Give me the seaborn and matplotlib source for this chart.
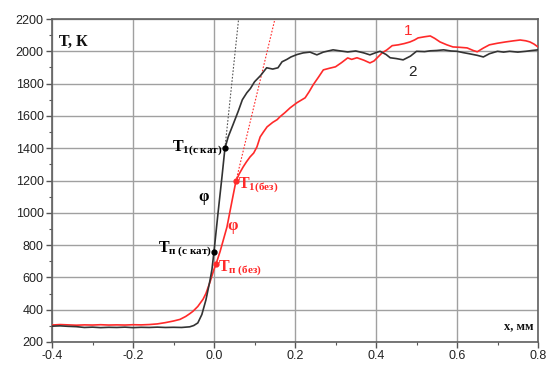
import numpy as np
import pandas as pd
import matplotlib
matplotlib.use("Agg")
import matplotlib.pyplot as plt
from matplotlib.ticker import MultipleLocator
import seaborn as sns

# Curve 2 (with catalyst), black
x2 = [-0.40, -0.38, -0.36, -0.34, -0.32, -0.30, -0.28, -0.26, -0.24, -0.22, -0.20, -0.18,
      -0.16, -0.14, -0.12, -0.10, -0.08, -0.06, -0.05, -0.04, -0.03, -0.02, -0.01, -0.005,
      0.0, 0.01, 0.02, 0.027, 0.035, 0.047, 0.06, 0.07, 0.081, 0.09, 0.10, 0.115, 0.13,
      0.145, 0.158, 0.168, 0.18, 0.19, 0.205, 0.22, 0.237, 0.254, 0.27, 0.294, 0.31, 0.33,
      0.35, 0.37, 0.385, 0.40, 0.41, 0.425, 0.435, 0.45, 0.467, 0.485, 0.50, 0.52, 0.534,
      0.55, 0.567, 0.585, 0.60, 0.615, 0.63, 0.65, 0.665, 0.68, 0.70, 0.715, 0.73, 0.75,
      0.77, 0.785, 0.80]
y2 = [298, 300, 297, 295, 290, 292, 289, 291, 290, 292, 289, 291,
      290, 292, 290, 291, 290, 294, 302, 318, 370, 460, 580, 650,
      760, 1000, 1230, 1400, 1470, 1546, 1630, 1700, 1743, 1770, 1811, 1850, 1898,
      1890, 1898, 1935, 1950, 1965, 1980, 1990, 1995, 1978, 1995, 2009, 2003, 1996,
      2002, 1990, 1978, 1992, 2000, 1980, 1960, 1955, 1947, 1970, 2000, 1998, 2003,
      2005, 2009, 2002, 2000, 1992, 1985, 1975, 1965, 1985, 2000, 1995, 2000, 1995,
      2000, 2005, 2009]

# Curve 1 (without catalyst), red
x1 = [-0.40, -0.38, -0.36, -0.34, -0.32, -0.30, -0.28, -0.26, -0.24, -0.22, -0.20, -0.18,
      -0.16, -0.14, -0.12, -0.10, -0.084, -0.07, -0.06, -0.052, -0.04, -0.027, -0.02, -0.01,
      0.0, 0.005, 0.015, 0.032, 0.045, 0.054, 0.062, 0.072, 0.08, 0.089, 0.098, 0.106,
      0.114, 0.122, 0.131, 0.145, 0.156, 0.163, 0.175, 0.188, 0.205, 0.225, 0.235, 0.245,
      0.258, 0.27, 0.285, 0.30, 0.315, 0.33, 0.34, 0.353, 0.37, 0.385, 0.395, 0.405, 0.415,
      0.427, 0.44, 0.455, 0.47, 0.484, 0.495, 0.504, 0.52, 0.534, 0.545, 0.558, 0.575,
      0.59, 0.605, 0.625, 0.64, 0.65, 0.665, 0.68, 0.70, 0.72, 0.74, 0.756, 0.77, 0.78,
      0.79, 0.80]
y1 = [305, 308, 306, 304, 306, 305, 307, 305, 306, 305, 307, 306,
      308, 312, 320, 330, 340, 358, 375, 390, 420, 465, 500, 570,
      650, 683, 760, 912, 1080, 1194, 1240, 1284, 1315, 1346, 1370, 1408,
      1470, 1500, 1532, 1560, 1577, 1595, 1620, 1650, 1682, 1712, 1750, 1793,
      1840, 1885, 1895, 1904, 1930, 1959, 1950, 1960, 1945, 1928, 1940, 1965, 1990,
      2009, 2035, 2040, 2048, 2058, 2070, 2083, 2090, 2095, 2080, 2058, 2040,
      2027, 2025, 2021, 2005, 1997, 2020, 2040, 2050, 2058, 2065, 2070, 2065, 2058,
      2045, 2027]

# Characteristic points (x, T)
t1_cat = (0.027, 1400)
tn_cat = (0.0, 760)
t1_bez = (0.054, 1194)
tn_bez = (0.005, 683)

x_ticks = [-0.4, -0.2, 0.0, 0.2, 0.4, 0.6, 0.8]
y_ticks = [200, 400, 600, 800, 1000, 1200, 1400, 1600, 1800, 2000, 2200]

RED = "#ff2a2a"
BLACK = "#333333"

sns.set_style("white")
plt.rcParams["font.family"] = ["Liberation Sans", "DejaVu Sans"]
plt.rcParams["mathtext.fontset"] = "custom"
plt.rcParams["mathtext.rm"] = "Liberation Serif"
plt.rcParams["mathtext.bf"] = "Liberation Serif:bold"
plt.rcParams["mathtext.it"] = "Liberation Serif:italic"

fig = plt.figure(figsize=(5.49, 3.66), dpi=100)
ax = fig.add_axes([52 / 549, 24 / 366, (538 - 52) / 549, (342 - 19) / 366])

df1 = pd.DataFrame({"x": x1, "T": y1})
df2 = pd.DataFrame({"x": x2, "T": y2})

ax.grid(True, color="#a0a0a0", linewidth=1.0)
ax.set_axisbelow(True)

sns.lineplot(data=df1, x="x", y="T", color=RED, linewidth=1.2, sort=False,
             estimator=None, ax=ax, zorder=3)
sns.lineplot(data=df2, x="x", y="T", color=BLACK, linewidth=1.2, sort=False,
             estimator=None, ax=ax, zorder=4)


def tangent(p_low, p_high, top):
    slope = (p_high[1] - p_low[1]) / (p_high[0] - p_low[0])
    x_top = p_high[0] + (top - p_high[1]) / slope
    return [p_high[0], x_top], [p_high[1], top]


tx, ty = tangent(tn_cat, t1_cat, 2200)
ax.plot(tx, ty, color="#555555", linestyle=(0, (1.5, 1.5)), linewidth=0.8, zorder=2)
tx, ty = tangent(tn_bez, t1_bez, 2200)
ax.plot(tx, ty, color=RED, linestyle=(0, (1.5, 1.5)), linewidth=0.8, zorder=2)

for p, c in [(t1_cat, "black"), (tn_cat, "black"), (t1_bez, RED), (tn_bez, RED)]:
    ax.plot([p[0]], [p[1]], "o", color=c, markersize=3.5, zorder=6)

ax.set_xlim(-0.4, 0.8)
ax.set_ylim(200, 2200)
ax.set_xticks(x_ticks)
ax.set_yticks(y_ticks)
ax.set_xticklabels([f"{v:.1f}" for v in x_ticks])
ax.xaxis.set_minor_locator(MultipleLocator(0.1))
ax.yaxis.set_minor_locator(MultipleLocator(100))
ax.tick_params(which="major", direction="out", length=4, width=1, color="#555555",
               labelsize=9, labelcolor="#222222", pad=2, bottom=True, left=True)
ax.tick_params(which="minor", direction="out", length=2, width=0.8, color="#555555",
               bottom=True, left=True)
for s in ax.spines.values():
    s.set_color("#606060")
    s.set_linewidth(1.2)
ax.set_xlabel("")
ax.set_ylabel("")

# Axis captions inside the frame
ax.text(0.015, 0.955, "Т, К", transform=ax.transAxes, ha="left", va="top",
        family="Liberation Serif", fontweight="bold", fontsize=11.5, color="#111111")
ax.text(0.99, 0.03, "x, мм", transform=ax.transAxes, ha="right", va="bottom",
        family="Liberation Serif", fontweight="bold", fontsize=9, color="#111111")

# Curve numbers
ax.text(0.48, 2085, "1", color=RED, fontsize=11, ha="center", va="bottom")
ax.text(0.49, 1915, "2", color="#222222", fontsize=11, ha="center", va="top")

# Point labels
ax.text(t1_cat[0] - 0.006, t1_cat[1], r"$\mathbf{T}_{\mathbf{1(с\ кат)}}$",
        color="black", fontsize=11.5, ha="right", va="center")
ax.text(tn_cat[0] - 0.004, tn_cat[1] + 10, r"$\mathbf{T}_{\mathbf{п\ (с\ кат)}}$",
        color="black", fontsize=11.5, ha="right", va="center")
ax.text(t1_bez[0] + 0.006, t1_bez[1] - 25, r"$\mathbf{T}_{\mathbf{1(без)}}$",
        color=RED, fontsize=11.5, ha="left", va="center")
ax.text(tn_bez[0] + 0.006, tn_bez[1] - 30, r"$\mathbf{T}_{\mathbf{п\ (без)}}$",
        color=RED, fontsize=11.5, ha="left", va="center")
ax.text(-0.025, 1100, "φ", color="black", family="Liberation Serif", fontsize=12,
        fontweight="bold", ha="center", va="center")
ax.text(0.047, 920, "φ", color=RED, family="Liberation Serif", fontsize=12,
        fontweight="bold", ha="center", va="center")

fig.savefig("out.png", dpi=100)
